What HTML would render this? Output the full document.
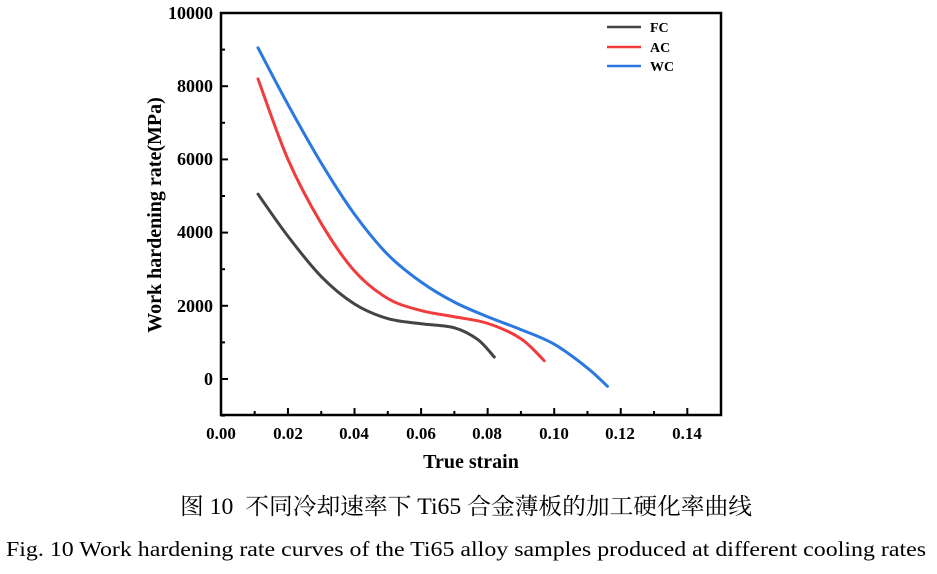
<!DOCTYPE html>
<html><head><meta charset="utf-8"><style>
body{margin:0;background:#fff;width:937px;height:569px;overflow:hidden}
svg text{font-family:"Liberation Serif","Noto Serif CJK SC",serif}
</style></head><body>
<svg id="s" width="937" height="569" xmlns="http://www.w3.org/2000/svg">
<rect x="221" y="13" width="500" height="402" fill="none" stroke="#000" stroke-width="2.5"/>
<g font-weight="bold" font-size="18" text-anchor="end">
<text x="213" y="19">10000</text>
<text x="213" y="92">8000</text>
<text x="213" y="165">6000</text>
<text x="213" y="238">4000</text>
<text x="213" y="312">2000</text>
<text x="213" y="385">0</text>
</g>
<g font-weight="bold" font-size="17" text-anchor="middle">
<text x="221" y="439">0.00</text><text x="288" y="439">0.02</text><text x="354" y="439">0.04</text>
<text x="421" y="439">0.06</text><text x="487" y="439">0.08</text><text x="554" y="439">0.10</text>
<text x="620" y="439">0.12</text><text x="687" y="439">0.14</text>
</g>
<text x="471" y="468" font-weight="bold" font-size="20" text-anchor="middle">True strain</text>
<text transform="translate(161,215) rotate(-90)" font-weight="bold" font-size="20" text-anchor="middle">Work hardening rate(MPa)</text>
<g id="ticks" stroke="#000" stroke-width="2"></g>
<g fill="none" stroke-width="3" stroke-linecap="round">
<path id="fc" stroke="#444"/><path id="ac" stroke="#f03c3c"/><path id="wc" stroke="#2a78e0"/>
</g>
<g stroke-width="2.5">
<line x1="607" y1="27" x2="641" y2="27" stroke="#444"/>
<line x1="607" y1="47" x2="641" y2="47" stroke="#f03c3c"/>
<line x1="607" y1="66" x2="641" y2="66" stroke="#2a78e0"/>
</g>
<g font-weight="bold" font-size="14">
<text x="650" y="32">FC</text><text x="650" y="52">AC</text><text x="650" y="71">WC</text>
</g>
<text x="180" y="514" font-size="23" textLength="572" lengthAdjust="spacingAndGlyphs" xml:space="preserve">图 10  不同冷却速率下 Ti65 合金薄板的加工硬化率曲线</text>
<text x="466" y="556" font-size="21" text-anchor="middle" textLength="920" lengthAdjust="spacingAndGlyphs">Fig. 10 Work hardening rate curves of the Ti65 alloy samples produced at different cooling rates</text>
</svg>
<script>
function X(e){return 221.4+e*3328}function Y(v){return 379-v*0.0366}
function path(pts){pts=pts.map(p=>[X(p[0]),Y(p[1])]);let d="M"+pts[0];for(let i=0;i<pts.length-1;i++){let p0=pts[Math.max(0,i-1)],p1=pts[i],p2=pts[i+1],p3=pts[Math.min(pts.length-1,i+2)];
d+=" C"+[p1[0]+(p2[0]-p0[0])/6,p1[1]+(p2[1]-p0[1])/6]+" "+[p2[0]-(p3[0]-p1[0])/6,p2[1]-(p3[1]-p1[1])/6]+" "+p2;}return d}
document.getElementById('fc').setAttribute('d',path([[0.011,5050],[0.02,3900],[0.03,2800],[0.04,2050],[0.05,1650],[0.06,1510],[0.07,1400],[0.077,1080],[0.082,600]]));
document.getElementById('ac').setAttribute('d',path([[0.011,8200],[0.02,6000],[0.03,4250],[0.04,2950],[0.05,2200],[0.06,1870],[0.07,1700],[0.08,1520],[0.09,1100],[0.097,500]]));
document.getElementById('wc').setAttribute('d',path([[0.011,9050],[0.02,7500],[0.03,5900],[0.04,4500],[0.05,3400],[0.06,2650],[0.07,2100],[0.08,1700],[0.09,1350],[0.1,950],[0.11,300],[0.116,-200]]));
let t="";for(let i=1;i<15;i++){let x=X(i*0.01);t+=`<line x1="${x}" y1="415" x2="${x}" y2="${i%2?411:408}"/>`;}
for(let v=-1000;v<=9000;v+=1000){let y=Y(v);t+=`<line x1="221" y1="${y}" x2="${v%2000?225:228}" y2="${y}"/>`;}
document.getElementById('ticks').innerHTML=t;
</script>
</body></html>
